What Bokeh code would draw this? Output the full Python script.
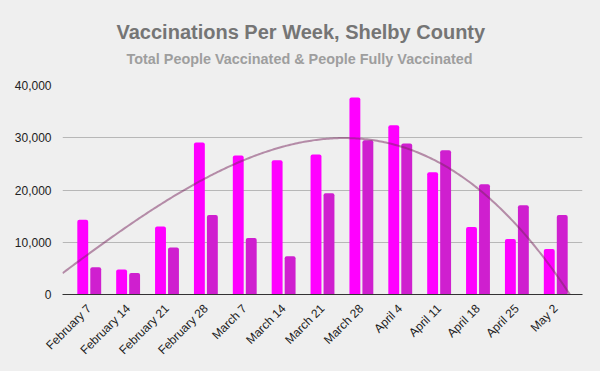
import numpy as np
from bokeh.plotting import figure
from bokeh.models import (ColumnDataSource, Range1d, FixedTicker, NumeralTickFormatter, Title)
from bokeh.transform import dodge
from bokeh.embed import file_html
from bokeh.resources import INLINE
import math

weeks = ["February 7", "February 14", "February 21", "February 28", "March 7",
         "March 14", "March 21", "March 28", "April 4", "April 11", "April 18",
         "April 25", "May 2"]
total_vaccinated = [14300, 4800, 13000, 29100, 26600, 25700, 26800, 37700,
                    32400, 23400, 12900, 10600, 8700]
fully_vaccinated = [5200, 4100, 9000, 15200, 10800, 7300, 19400, 29500,
                    28900, 27600, 21100, 17100, 15200]
y_ticks = [0, 10000, 20000, 30000, 40000]
title_text = "Vaccinations Per Week, Shelby County"
subtitle_text = "Total People Vaccinated & People Fully Vaccinated"

idx = list(range(len(weeks)))
src = ColumnDataSource(dict(x=idx, total=total_vaccinated, full=fully_vaccinated))

BG = "#efefef"
FONT = "Liberation Sans"

p = figure(frame_width=520, frame_height=209, output_backend="svg",
           toolbar_location=None, x_range=Range1d(-0.688, 12.688),
           y_range=Range1d(0, 40000), title=None,
           min_border_left=62, min_border_right=18, min_border_top=85,
           min_border_bottom=77)
p.background_fill_color = BG
p.border_fill_color = BG
p.outline_line_color = None

p.vbar(x=dodge("x", -0.167, range=p.x_range), top="total", width=0.28, bottom=0,
       source=src, fill_color="#ff00ff", line_color=None, border_radius=(2, 2, 0, 0))
p.vbar(x=dodge("x", 0.167, range=p.x_range), top="full", width=0.28, bottom=0,
       source=src, fill_color="#cf1fcf", line_color=None, border_radius=(2, 2, 0, 0))

# polynomial trendline fitted to the total series
coef = np.polyfit(idx, total_vaccinated, 3)
tx = np.linspace(-0.688, 12.688, 300)
ty = np.polyval(coef, tx)
p.line(tx, ty, line_color="#7a2860", line_alpha=0.5, line_width=2)

p.xgrid.grid_line_color = None
p.ygrid.grid_line_color = "#b7b7b7"
p.ygrid.ticker = FixedTicker(ticks=y_ticks)

p.yaxis.ticker = FixedTicker(ticks=y_ticks)
p.yaxis.formatter = NumeralTickFormatter(format="0,0")
p.yaxis.axis_line_color = None
p.yaxis.major_tick_line_color = None
p.yaxis.minor_tick_line_color = None
p.yaxis.major_label_standoff = 5
p.yaxis.major_label_text_font = FONT
p.yaxis.major_label_text_font_size = "12px"
p.yaxis.major_label_text_color = "#222222"

p.xaxis.ticker = FixedTicker(ticks=idx)
p.xaxis.major_label_overrides = {i: w for i, w in zip(idx, weeks)}
p.xaxis.major_label_orientation = math.pi / 4
p.xaxis.axis_line_color = "#333333"
p.xaxis.major_tick_line_color = None
p.xaxis.minor_tick_line_color = None
p.xaxis.major_label_standoff = 6
p.xaxis.major_label_text_font = FONT
p.xaxis.major_label_text_font_size = "12px"
p.xaxis.major_label_text_color = "#222222"

# above panel, stacked from the frame upward: spacer, subtitle, title
p.add_layout(Title(text=" ", text_font=FONT, text_font_size="10px", standoff=6,
                   text_color=BG), "above")
p.add_layout(Title(text=subtitle_text, align="left", offset=64,
                   text_font=FONT, text_font_size="14.4px", text_font_style="bold",
                   text_color="#9e9e9e", standoff=0), "above")
p.add_layout(Title(text=title_text, align="left", offset=54,
                   text_font=FONT, text_font_size="20px", text_font_style="bold",
                   text_color="#757575", standoff=12), "above")

html = file_html(p, INLINE)
html = html.replace("<head>", "<head><style>html,body{background:#efefef;}</style>", 1)
open("out.html", "w").write(html)
